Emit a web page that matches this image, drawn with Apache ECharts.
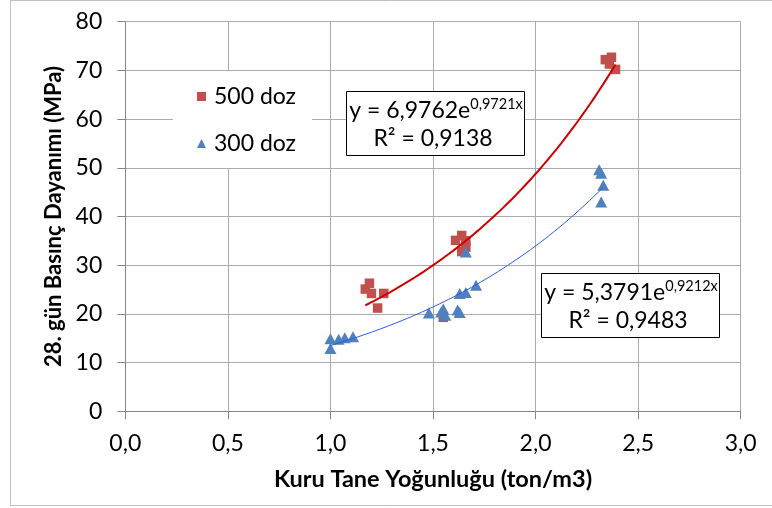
<!DOCTYPE html>
<html>
<head>
<meta charset="utf-8">
<script src="https://cdn.jsdelivr.net/npm/echarts@6/dist/echarts.min.js"></script>
<style>html,body{margin:0;padding:0;background:#fff}#c{width:772px;height:508px}</style>
</head>
<body>
<div id="c"></div>
<script>
// ---- data ----
const red500X = [1.17, 1.19, 1.20, 1.26, 1.23, 1.55, 1.64, 1.61, 1.66, 1.66, 1.64, 2.34, 2.37, 2.36, 2.39];
const red500Y = [25.1, 26.3, 24.2, 24.2, 21.2, 19.3, 36.1, 35.1, 35.0, 33.7, 32.8, 72.2, 72.7, 71.3, 70.2];
const blue300X = [1.00, 1.00, 1.04, 1.07, 1.11, 1.48, 1.54, 1.55, 1.56, 1.62, 1.63, 1.63, 1.66, 1.71, 1.66, 2.31, 2.32, 2.33, 2.32];
const blue300Y = [14.9, 12.9, 14.8, 15.1, 15.3, 20.2, 20.4, 21.0, 19.7, 20.8, 20.3, 24.2, 24.4, 25.9, 32.7, 49.6, 48.9, 46.4, 43.0];
// trendline equations printed on the chart: y = a * e^(b x), and x range of each trendline
const redTrend = [6.9762, 0.9721];
const redTrendRange = [1.17, 2.39];
const blueTrend = [5.3791, 0.9212];
const blueTrendRange = [1.00, 2.33];
const seriesNames = ['500 doz', '300 doz'];
const xTicks = [0, 3, 0.5];
const yTicks = [0, 80, 10];
const xTitle = 'Kuru Tane Yoğunluğu (ton/m3)';
const yTitle = '28. gün Basınç Dayanımı (MPa)';
const eqRed = ['6,9762', '0,9721', '0,9138'];
const eqBlue = ['5,3791', '0,9212', '0,9483'];

const FONT = 'Lato, "Open Sans", sans-serif';
function zip(xs, ys) { return xs.map((x, i) => [x, ys[i]]); }
function trend(c, r) {
  const pts = [], n = 60;
  for (let i = 0; i <= n; i++) {
    const x = r[0] + (r[1] - r[0]) * i / n;
    pts.push([x, c[0] * Math.exp(c[1] * x)]);
  }
  return pts;
}
function eqBox(x, y, w, h, c) {
  const cx = x + w / 2;
  return [
    { type: 'rect', z: 10, shape: { x: x + 0.5, y: y + 0.5, width: w, height: h },
      style: { fill: '#fff', stroke: '#000', lineWidth: 1 } },
    { type: 'text', z: 11, x: cx + 1, y: y + 20,
      style: { text: '{m|y = ' + c[0] + 'e}{s|' + c[1] + 'x}', textAlign: 'center', textVerticalAlign: 'middle',
        rich: { m: { fontSize: 23, fontFamily: FONT, fill: '#000', color: '#000' },
                s: { fontSize: 14.5, fontFamily: FONT, fill: '#000', color: '#000', padding: [0, 0, 13, 0] } } } },
    { type: 'text', z: 11, x: cx - 2, y: y + 48,
      style: { text: 'R² = ' + c[2], textAlign: 'center', textVerticalAlign: 'middle',
        font: '23px ' + FONT, fill: '#000' } }
  ];
}

const chart = echarts.init(document.getElementById('c'), null, { renderer: 'canvas' });
chart.setOption({
  animation: false,
  backgroundColor: '#fff',
  grid: { left: 125.3, right: 31.3, top: 21.7, bottom: 96.7, containLabel: false },
  legend: {
    orient: 'vertical', left: 173, top: 71,
    backgroundColor: '#fff', padding: [14, 16, 13, 24],
    itemWidth: 9, itemHeight: 9, itemGap: 24,
    textStyle: { fontSize: 23, fontFamily: FONT, color: '#000', lineHeight: 22, padding: [0, 0, 0, 3] },
    data: [{ name: seriesNames[0], icon: 'rect' }, { name: seriesNames[1], icon: 'triangle' }]
  },
  xAxis: {
    type: 'value', min: xTicks[0], max: xTicks[1], interval: xTicks[2],
    name: xTitle, nameLocation: 'middle', nameGap: 56,
    nameTextStyle: { fontSize: 23.5, fontWeight: 'bold', fontFamily: FONT, color: '#000' },
    axisLine: { show: true, onZero: false, lineStyle: { color: '#868686', width: 1 } },
    axisTick: { show: true, inside: false, length: 8, lineStyle: { color: '#868686' } },
    axisLabel: { margin: 21, fontSize: 23, fontFamily: FONT, color: '#000',
      formatter: v => v.toFixed(1).replace('.', ',') },
    splitLine: { show: true, lineStyle: { color: '#ababab', width: 1 } }
  },
  yAxis: {
    type: 'value', min: yTicks[0], max: yTicks[1], interval: yTicks[2],
    name: yTitle, nameLocation: 'middle', nameGap: 59,
    nameTextStyle: { fontSize: 22, fontWeight: 'bold', fontFamily: FONT, color: '#000' },
    axisLine: { show: true, onZero: false, lineStyle: { color: '#868686', width: 1 } },
    axisTick: { show: true, inside: false, length: 8, lineStyle: { color: '#868686' } },
    axisLabel: { margin: 23, fontSize: 23, fontFamily: FONT, color: '#000' },
    splitLine: { show: true, lineStyle: { color: '#ababab', width: 1 } }
  },
  series: [
    { name: seriesNames[0], type: 'scatter', symbol: 'rect', symbolSize: 9.5,
      itemStyle: { color: '#C0504D', opacity: 1 }, data: zip(red500X, red500Y), z: 3 },
    { name: seriesNames[1], type: 'scatter', symbol: 'triangle', symbolSize: [12, 11],
      itemStyle: { color: '#4F81BD', opacity: 1 }, data: zip(blue300X, blue300Y), z: 3 },
    { name: 'trend500', type: 'line', showSymbol: false, smooth: false, silent: true, z: 4,
      lineStyle: { color: '#D00000', width: 2 }, data: trend(redTrend, redTrendRange) },
    { name: 'trend300', type: 'line', showSymbol: false, smooth: false, silent: true, z: 4,
      lineStyle: { color: '#2a5cf0', width: 1 }, data: trend(blueTrend, blueTrendRange) }
  ],
  graphic: [
    { type: 'rect', z: -1, silent: true, shape: { x: 10.5, y: 0.5, width: 800, height: 505 },
      style: { fill: 'none', stroke: '#bfbfbf', lineWidth: 1 } }
  ].concat(eqBox(346, 91, 178, 64, eqRed), eqBox(541, 273, 178, 64, eqBlue))
});
</script>
</body>
</html>
